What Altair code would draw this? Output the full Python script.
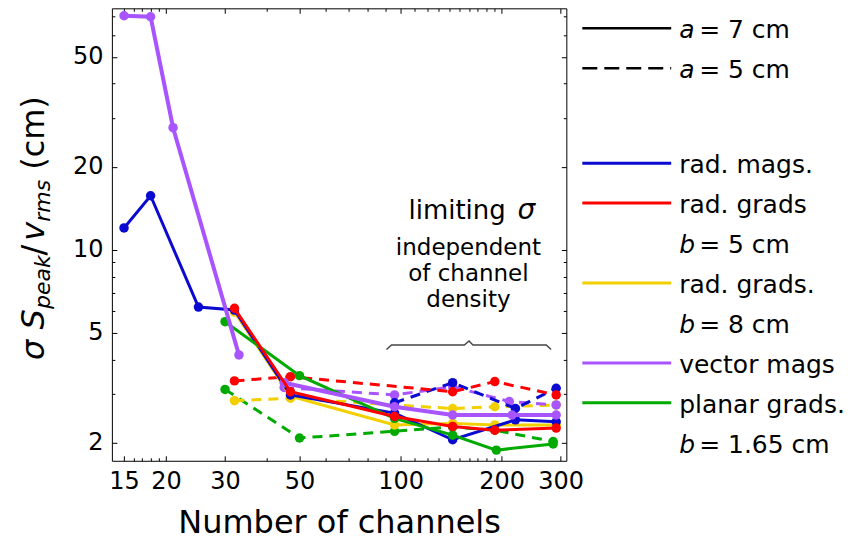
import altair as alt
import pandas as pd

FONT = "DejaVu Sans"

# ---------------- data ----------------
blue_a7_n = [15, 18, 25, 32, 47, 96, 143, 220, 291]
blue_a7_v = [12.0, 15.7, 6.2, 6.05, 2.98, 2.56, 2.05, 2.42, 2.38]
blue_a5_n = [96, 143, 220, 291]
blue_a5_v = [2.79, 3.30, 2.66, 3.15]
red_a7_n = [32, 47, 96, 143, 191, 291]
red_a7_v = [6.14, 3.06, 2.49, 2.29, 2.22, 2.26]
red_a5_n = [32, 47, 143, 191, 291]
red_a5_v = [3.35, 3.47, 3.06, 3.33, 2.98]
yellow_a7_n = [32, 47, 96, 143, 191, 291]
yellow_a7_v = [5.95, 2.95, 2.32, 2.35, 2.32, 2.32]
yellow_a5_n = [32, 47, 96, 143, 191, 291]
yellow_a5_v = [2.84, 2.90, 2.74, 2.66, 2.70, 2.74]
purple_a7_low_n = [15, 18, 21, 33]
purple_a7_low_v = [70.5, 69.9, 27.7, 4.16]
purple_a7_high_n = [45, 96, 143, 215, 291]
purple_a7_high_v = [3.30, 2.70, 2.52, 2.52, 2.52]
purple_a5_n = [45, 96, 143, 211, 291]
purple_a5_v = [3.17, 2.98, 3.19, 2.82, 2.74]
green_a7_n = [30, 50, 96, 143, 193, 285]
green_a7_v = [5.49, 3.5, 2.45, 2.13, 1.88, 1.98]
green_a5_n = [30, 50, 96, 143, 191, 285]
green_a5_v = [3.12, 2.08, 2.20, 2.28, 2.22, 2.02]

brace_n = [90.8, 94, 155, 160, 164.4, 272, 281]
brace_v = [4.35, 4.52, 4.52, 4.67, 4.52, 4.52, 4.35]

x_major = [15, 20, 30, 50, 100, 200, 300]
x_minor = [16, 17, 18, 19, 40, 60, 70, 80, 90, 110, 120, 130, 140, 150, 160, 170, 180, 190]
y_major = [2, 5, 10, 20, 50]
y_minor = [3, 4, 6, 7, 8, 9, 30, 40, 60, 70]

legend_names = ["rad. mags.", "rad. grads", "rad. grads.", "vector mags", "planar grads."]

BLUE = "#0a0ad0"
RED = "#ff0000"
YELLOW = "#f2d000"
PURPLE = "#a855ff"
GREEN = "#00aa00"

xs = alt.Scale(type="log", domain=[13.8, 312], nice=False)
ys = alt.Scale(type="log", domain=[1.72, 75], nice=False)

DASH = [10, 7]

series = [
    (green_a5_n, green_a5_v, GREEN, True, 3),
    (yellow_a5_n, yellow_a5_v, YELLOW, True, 3),
    (purple_a5_n, purple_a5_v, PURPLE, True, 3),
    (blue_a5_n, blue_a5_v, BLUE, True, 3),
    (red_a5_n, red_a5_v, RED, True, 3),
    (yellow_a7_n, yellow_a7_v, YELLOW, False, 3),
    (blue_a7_n, blue_a7_v, BLUE, False, 3),
    (green_a7_n, green_a7_v, GREEN, False, 3),
    (purple_a7_low_n, purple_a7_low_v, PURPLE, False, 4),
    (purple_a7_high_n, purple_a7_high_v, PURPLE, False, 4),
    (red_a7_n, red_a7_v, RED, False, 3),
]

layers = []

# brace
bdf = pd.DataFrame({"N": brace_n, "v": brace_v})
layers.append(
    alt.Chart(bdf).mark_line(color="#444444", strokeWidth=1.4).encode(
        x=alt.X("N:Q", scale=xs, axis=None),
        y=alt.Y("v:Q", scale=ys, axis=None),
        order="N:Q",
    )
)

for n, v, color, dashed, width in series:
    df = pd.DataFrame({"N": n, "v": v})
    base = alt.Chart(df).encode(
        x=alt.X("N:Q", scale=xs, axis=None),
        y=alt.Y("v:Q", scale=ys, axis=None),
    )
    kw = dict(color=color, strokeWidth=width)
    if dashed:
        kw["strokeDash"] = DASH
    layers.append(base.mark_line(**kw))
    layers.append(base.mark_circle(color=color, size=90, opacity=1))

# axes (inward ticks on all four sides)
anchor = pd.DataFrame({"N": [100], "v": [5]})


def axis_layer(xaxis, yaxis):
    return alt.Chart(anchor).mark_point(opacity=0).encode(
        x=alt.X("N:Q", scale=xs, axis=xaxis),
        y=alt.Y("v:Q", scale=ys, axis=yaxis),
    )


common = dict(domain=False, grid=False, tickColor="black", tickWidth=1)
layers.append(axis_layer(
    alt.Axis(orient="bottom", values=x_major, format="d", tickSize={"expr": "-5"},
             labelFontSize=24, labelPadding=14, labelFlush=False, labelOverlap=False,
             title="Number of channels", titleFontSize=32, titleFontWeight="normal",
             titlePadding=14, **common),
    alt.Axis(orient="left", values=y_major, format="d", tickSize={"expr": "-5"},
             labelFontSize=24, labelPadding=14, labelFlush=False, labelOverlap=False,
             title=None, **common),
))
layers.append(axis_layer(
    alt.Axis(orient="bottom", values=x_minor, labels=False, tickSize={"expr": "-3"}, title=None, **common),
    alt.Axis(orient="left", values=y_minor, labels=False, tickSize={"expr": "-3"}, title=None, **common),
))
layers.append(axis_layer(
    alt.Axis(orient="top", values=x_major, labels=False, tickSize={"expr": "-5"}, title=None, **common),
    alt.Axis(orient="right", values=y_major, labels=False, tickSize={"expr": "-5"}, title=None, **common),
))
layers.append(axis_layer(
    alt.Axis(orient="top", values=x_minor, labels=False, tickSize={"expr": "-3"}, title=None, **common),
    alt.Axis(orient="right", values=y_minor, labels=False, tickSize={"expr": "-3"}, title=None, **common),
))

dummy = pd.DataFrame({"d": [0]})


def txt(s, x, y, size=25, italic=False, align="left", baseline="middle", angle=0):
    return alt.Chart(dummy).mark_text(
        text=s, font=FONT, fontSize=size, fontStyle="italic" if italic else "normal",
        align=align, baseline=baseline, angle=angle, color="black",
    ).encode(x=alt.value(x), y=alt.value(y))


def lrule(y, color, dashed=False, width=3):
    kw = dict(color=color, strokeWidth=width)
    if dashed:
        kw["strokeDash"] = [15, 7]
    return alt.Chart(dummy).mark_rule(**kw).encode(
        x=alt.value(471), x2=alt.value(560), y=alt.value(y)
    )


# legend
TX = 568
EQ = 588
layers += [
    lrule(20, "black", False, 2.5),
    txt("a", TX, 22, italic=True), txt("= 7 cm", EQ, 22),
    lrule(60, "black", True, 2.5),
    txt("a", TX, 62, italic=True), txt("= 5 cm", EQ, 62),
    lrule(155, BLUE), txt(legend_names[0], TX, 157),
    lrule(195, RED), txt(legend_names[1], TX, 197),
    txt("b", TX, 237, italic=True), txt("= 5 cm", EQ, 237),
    lrule(275, YELLOW), txt(legend_names[2], TX, 277),
    txt("b", TX, 317, italic=True), txt("= 8 cm", EQ, 317),
    lrule(355, PURPLE), txt(legend_names[3], TX, 357),
    lrule(395, GREEN), txt(legend_names[4], TX, 397),
    txt("b", TX, 437, italic=True), txt("= 1.65 cm", EQ, 437),
]

# annotation
layers += [
    txt("limiting", 297, 211, size=26, baseline="alphabetic"),
    txt("σ", 406, 211, size=28, italic=True, baseline="alphabetic"),
    txt("independent", 357, 247, size=23, align="center", baseline="alphabetic"),
    txt("of channel", 357, 273, size=23, align="center", baseline="alphabetic"),
    txt("density", 357, 299, size=23, align="center", baseline="alphabetic"),
]

# y-axis title built from pieces (rotated)
MX = -68
SX = -62
layers += [
    txt("σ", MX, 352, size=32, italic=True, baseline="alphabetic", angle=270),
    txt("S", MX, 321.5, size=32, italic=True, baseline="alphabetic", angle=270),
    txt("peak", SX, 301, size=22, italic=True, baseline="alphabetic", angle=270),
    txt("/", MX, 247.5, size=32, baseline="alphabetic", angle=270),
    txt("v", MX, 232.7, size=32, italic=True, baseline="alphabetic", angle=270),
    txt("rms", SX, 213.7, size=22, italic=True, baseline="alphabetic", angle=270),
    txt("(cm)", MX, 161.7, size=32, baseline="alphabetic", angle=270),
]

chart = (
    alt.layer(*layers)
    .resolve_axis(x="independent", y="independent")
    .properties(
        width=455, height=453,
        padding={"left": 104, "top": 0, "right": 286, "bottom": 80},
        autosize=alt.AutoSizeParams(type="none"),
        background="white",
    )
    .configure_view(stroke="black", strokeWidth=1)
    .configure_axis(labelFont=FONT, titleFont=FONT, labelColor="black", titleColor="black")
)

chart.save("out.html", embed_options={"renderer": "svg", "actions": False})
